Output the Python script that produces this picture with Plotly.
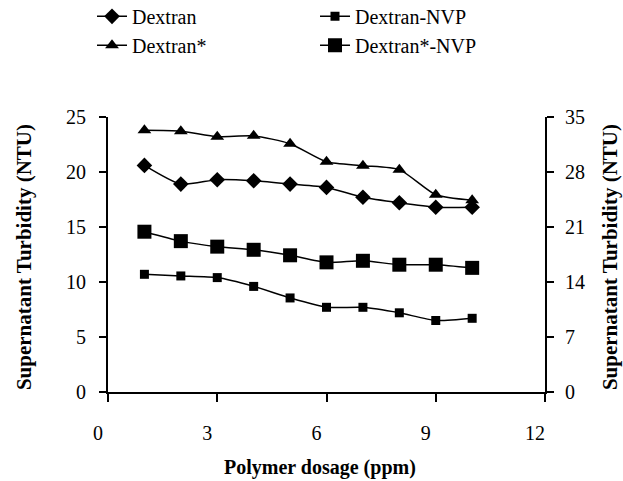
import plotly.graph_objects as go

dosage = [1, 2, 3, 4, 5, 6, 7, 8, 9, 10]
dextran = [20.6, 18.9, 19.3, 19.2, 18.9, 18.6, 17.7, 17.2, 16.8, 16.8]
dextran_star = [33.3, 33.2, 32.5, 32.6, 31.6, 29.3, 28.8, 28.3, 25.1, 24.4]
dextran_nvp = [10.7, 10.55, 10.4, 9.6, 8.55, 7.7, 7.7, 7.2, 6.5, 6.7]
dextran_star_nvp = [20.4, 19.2, 18.5, 18.1, 17.4, 16.5, 16.7, 16.2, 16.2, 15.8]

x_ticks = [0, 3, 6, 9, 12]
y_ticks = [0, 5, 10, 15, 20, 25]
y2_ticks = [0, 7, 14, 21, 28, 35]

FONT = "Liberation Serif"
line = dict(color="black", width=1.5, shape="spline", smoothing=0.6)

fig = go.Figure()
fig.add_trace(go.Scatter(x=dosage, y=dextran, name="Dextran", mode="lines+markers",
                         line=line, marker=dict(symbol="diamond", size=12, color="black"),
                         legend="legend"))
fig.add_trace(go.Scatter(x=dosage, y=dextran_star, name="Dextran*", mode="lines+markers",
                         line=line, marker=dict(symbol="triangle-up", size=12, color="black"),
                         yaxis="y2", legend="legend"))
fig.add_trace(go.Scatter(x=dosage, y=dextran_nvp, name="Dextran-NVP", mode="lines+markers",
                         line=line, marker=dict(symbol="square", size=9, color="black"),
                         legend="legend2"))
fig.add_trace(go.Scatter(x=dosage, y=dextran_star_nvp, name="Dextran*-NVP", mode="lines+markers",
                         line=line, marker=dict(symbol="square", size=14, color="black"),
                         yaxis="y2", legend="legend2"))

axis_common = dict(showline=True, linecolor="black", linewidth=2, ticks="outside",
                   tickwidth=2, tickcolor="black", showgrid=False, zeroline=False,
                   automargin=False,
                   tickfont=dict(family=FONT, size=20, color="black"))

fig.update_layout(
    width=623, height=481,
    margin=dict(l=108, r=78, t=117, b=89, autoexpand=False),
    paper_bgcolor="white", plot_bgcolor="white",
    font=dict(family=FONT, color="black"),
    xaxis=dict(range=[0, 12], tickvals=x_ticks, ticklen=8, ticklabelstandoff=14,
               ticklabelshift=-10, **axis_common),
    yaxis=dict(range=[0, 25], tickvals=y_ticks, ticklen=7, ticklabelstandoff=9,
               **axis_common),
    yaxis2=dict(range=[0, 35], tickvals=y2_ticks, ticklen=7, ticklabelstandoff=7,
                overlaying="y", side="right", **axis_common),
    legend=dict(x=-0.0366, y=1.437, xanchor="left", yanchor="top", orientation="v",
                font=dict(family=FONT, size=20, color="black"),
                bgcolor="rgba(0,0,0,0)", tracegroupgap=0),
    legend2=dict(x=0.4737, y=1.437, xanchor="left", yanchor="top", orientation="v",
                 font=dict(family=FONT, size=20, color="black"),
                 bgcolor="rgba(0,0,0,0)", tracegroupgap=0),
    annotations=[
        dict(text="<b>Polymer dosage (ppm)</b>", xref="paper", yref="paper",
             x=0.485, y=-0.276, xanchor="center", yanchor="middle", showarrow=False,
             font=dict(family=FONT, size=20, color="black")),
        dict(text="<b>Supernatant Turbidity (NTU)</b>", xref="paper", yref="paper",
             x=-0.192, y=0.491, xanchor="center", yanchor="middle", showarrow=False,
             textangle=-90, font=dict(family=FONT, size=21, color="black")),
        dict(text="<b>Supernatant Turbidity (NTU)</b>", xref="paper", yref="paper",
             x=1.149, y=0.491, xanchor="center", yanchor="middle", showarrow=False,
             textangle=-90, font=dict(family=FONT, size=21, color="black")),
    ],
)

fig.write_html("out.html", config={"displayModeBar": False},
               post_script="document.body.style.margin='0';")
